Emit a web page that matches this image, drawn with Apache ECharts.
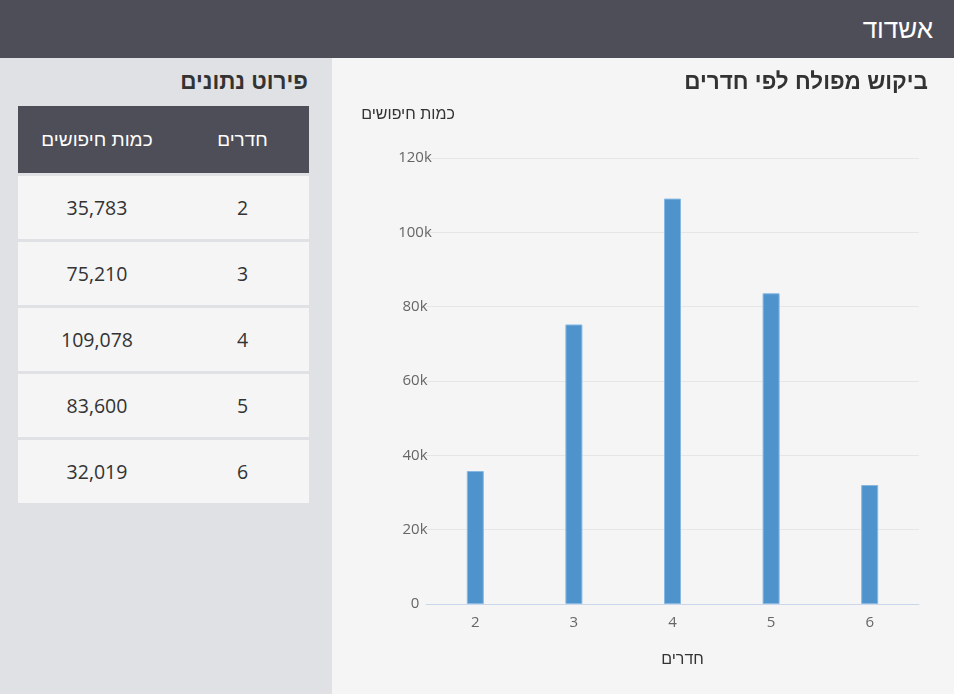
<!DOCTYPE html>
<html lang="he" dir="rtl">
<head>
<meta charset="utf-8">
<script src="https://cdn.jsdelivr.net/npm/echarts@6/dist/echarts.min.js"></script>
<style>
  html, body { margin:0; padding:0; width:954px; height:694px; overflow:hidden; background:#f5f5f5;
    font-family:"Liberation Sans","DejaVu Sans",sans-serif; }
  #header { position:absolute; left:0; top:0; width:954px; height:58px; background:#4e4e59; }
  #header .t { position:absolute; right:21px; top:13px; color:#fff; font-size:26px; line-height:32px; }
  #left { position:absolute; left:0; top:58px; width:332px; height:636px; background:#dfe1e5; }
  #left .title { position:absolute; right:24px; top:10px; font-size:22.5px; font-weight:bold; color:#333; line-height:28px; }
  #tbl { position:absolute; left:18px; top:48px; width:291px; border-collapse:separate; border-spacing:0; }
  #tbl th { background:#4e4e59; color:#fff; font-weight:normal; font-size:19px; height:67px; padding:0; text-align:center; }
  #tbl td { background:#f5f5f6; color:#333; font-size:19.5px; height:63px; padding:0; text-align:center; border-top:3.5px solid #dfe1e5;
    font-family:"Open Sans","DejaVu Sans",sans-serif; }
  #tbl th.c1, #tbl td.c1 { width:133px; }
  #right { position:absolute; left:332px; top:58px; width:616px; height:636px; background:#f5f5f5; }
  #right .title { position:absolute; right:20px; top:10px; font-size:22.5px; font-weight:bold; color:#333; line-height:28px; }
  #chart { position:absolute; left:0; top:0; width:616px; height:636px; }
</style>
</head>
<body>
<div id="header"><div class="t">אשדוד</div></div>
<div id="left">
  <div class="title">פירוט נתונים</div>
  <table id="tbl"><thead><tr><th class="c1">חדרים</th><th class="c2">כמות חיפושים</th></tr></thead><tbody id="tb"></tbody></table>
</div>
<div id="right">
  <div id="chart"></div>
  <div class="title">ביקוש מפולח לפי חדרים</div>
</div>
<script>
const rooms = ['2', '3', '4', '5', '6'];
const searches = [35783, 75210, 109078, 83600, 32019];
const yTicks = [0, 20000, 40000, 60000, 80000, 100000, 120000];

const tb = document.getElementById('tb');
rooms.forEach((r, i) => {
  const tr = document.createElement('tr');
  const a = document.createElement('td'); a.className = 'c1'; a.textContent = r;
  const b = document.createElement('td'); b.className = 'c2'; b.textContent = searches[i].toLocaleString('en-US');
  tr.appendChild(a); tr.appendChild(b); tb.appendChild(tr);
});

const chart = echarts.init(document.getElementById('chart'), null, { renderer: 'canvas' });
chart.setOption({
  backgroundColor: 'transparent',
  textStyle: { fontFamily: '"Open Sans","DejaVu Sans",sans-serif' },
  grid: { left: 94, right: 29, top: 100, bottom: 90, containLabel: false },
  xAxis: {
    type: 'category',
    data: rooms,
    name: 'חדרים',
    nameLocation: 'middle',
    nameGap: 48,
    nameTextStyle: { color: '#333', fontSize: 16, fontFamily: '"Liberation Sans","DejaVu Sans",sans-serif', padding: [0, 0, 0, 20] },
    axisLine: { show: true, lineStyle: { color: '#ccd6eb', width: 1 } },
    axisTick: { show: false },
    axisLabel: { color: '#666', fontSize: 15, margin: 11 }
  },
  yAxis: {
    type: 'value',
    min: yTicks[0],
    max: yTicks[yTicks.length - 1],
    interval: 20000,
    name: 'כמות חיפושים',
    nameLocation: 'end',
    nameGap: 35,
    nameTextStyle: { color: '#333', fontSize: 16, fontFamily: '"Liberation Sans","DejaVu Sans",sans-serif', align: 'center', padding: [0, 36, 0, 0] },
    axisLine: { show: false },
    axisTick: { show: false },
    splitLine: { lineStyle: { color: '#e6e6e6', width: 1 } },
    axisLabel: { color: '#666', fontSize: 15, margin: 11, align: 'center',
      formatter: v => v === 0 ? '0' : (v / 1000) + 'k' }
  },
  series: [{
    type: 'bar',
    data: searches,
    barWidth: 17,
    itemStyle: { color: '#4f93cd', borderColor: '#86b8e2', borderWidth: 1 },
    silent: true
  }],
  animation: false
});
</script>
</body>
</html>
